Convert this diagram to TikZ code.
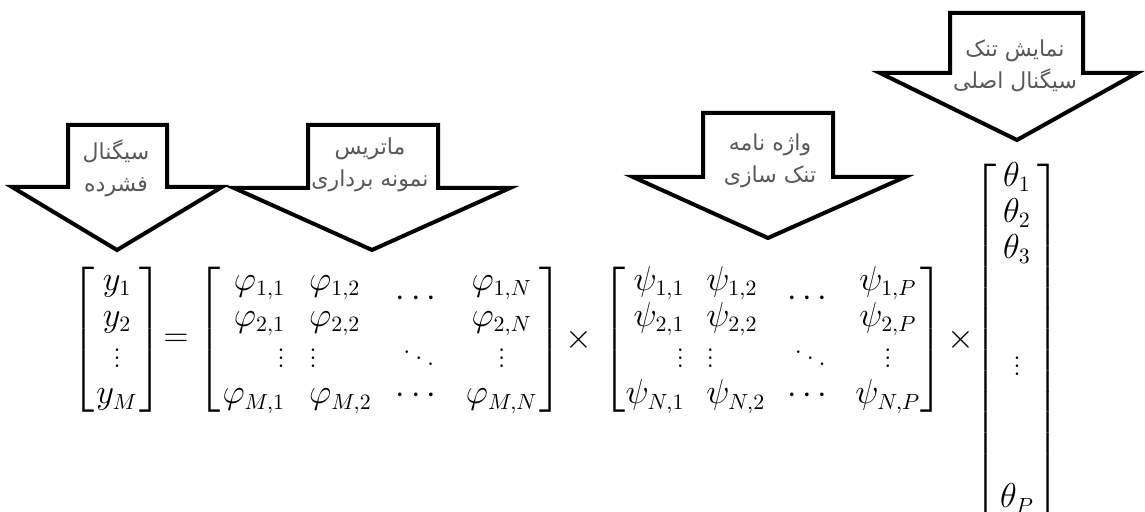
\documentclass[tikz,border=0pt]{standalone}
\usepackage{amsmath}
\usepackage{fontspec}
\newfontfamily\arabicfont[Script=Arabic]{DejaVu Sans}
\TeXXeTstate=1

\begin{document}
\begin{tikzpicture}[x=0.5pt,y=-0.5pt,font=\fontsize{16}{18}\selectfont]
  \tikzset{
    bigarrow/.style={draw,line width=2pt,fill=white,line join=miter},
    arrowtext/.style={font=\arabicfont\fontsize{11}{16}\selectfont,text=black!65,align=center,inner sep=0pt},
    mat/.style={inner sep=0pt,anchor=center}
  }
  \useasboundingbox (0,0) rectangle (1145,512);
  % block arrows over the factors
  \draw[bigarrow] (68,125) -- (167,125) -- (167,187) -- (222,187) -- (117,250) -- (12,187) -- (68,187) -- cycle;
  \draw[bigarrow] (308,125) -- (438,125) -- (438,188) -- (510,188) -- (372,250) -- (234,188) -- (308,188) -- cycle;
  \draw[bigarrow] (703,113) -- (833,113) -- (833,177) -- (905,177) -- (768,238) -- (633,177) -- (703,177) -- cycle;
  \draw[bigarrow] (950,13) -- (1083,13) -- (1083,73) -- (1137,73) -- (1017,140) -- (880,73) -- (950,73) -- cycle;
  \node[arrowtext] (lblcomp) at (116,168) {\beginR سیگنال\endR\\\beginR فشرده\endR};
  \node[arrowtext] (lblsamp) at (370,165) {\beginR ماتریس\endR\\\beginR نمونه برداری\endR};
  \node[arrowtext] (lbldict) at (770,161) {\beginR واژه نامه\endR\\\beginR تنک سازی\endR};
  \node[arrowtext] (lblsparse) at (1015,66) {\beginR نمایش تنک\endR\\\beginR سیگنال اصلی\endR};
  % the equation
  \node[mat] (yvec) at (117,340) {$\left[\begin{array}{@{\hspace{1pt}}c@{\hspace{1pt}}} y_1\\ y_2\\ \vdots\\ y_M \end{array}\right]$};
  \node[mat] (eq) at (176,340) {$=$};
  \node[mat] (phi) at (380,340) {\arraycolsep=6pt$\left[\begin{array}{@{\hspace{1pt}}rlcc@{\hspace{1pt}}}
    \varphi_{1,1} & \varphi_{1,2} & \smash{\raisebox{-8pt}{$\cdots$}} & \varphi_{1,N}\\
    \varphi_{2,1} & \varphi_{2,2} & & \varphi_{2,N}\\
    \vdots & \vdots & \ddots & \vdots\\
    \varphi_{M,1} & \varphi_{M,2} & \cdots & \varphi_{M,N}
  \end{array}\right]$};
  \node[mat] (times1) at (579,340) {$\times$};
  \node[mat] (psi) at (773,340) {\arraycolsep=5.5pt$\left[\begin{array}{@{\hspace{0pt}}rlcc@{\hspace{0pt}}}
    \psi_{1,1} & \psi_{1,2} & \smash{\raisebox{-8pt}{$\cdots$}} & \psi_{1,P}\\
    \psi_{2,1} & \psi_{2,2} & & \psi_{2,P}\\
    \vdots & \vdots & \ddots & \vdots\\
    \psi_{N,1} & \psi_{N,2} & \cdots & \psi_{N,P}
  \end{array}\right]$};
  \node[mat] (times2) at (961,340) {$\times$};
  \node[mat] (theta) at (1017,340) {$\left[\begin{array}{@{\hspace{2pt}}c@{\hspace{2pt}}} \theta_1\\ \theta_2\\ \theta_3\\[38pt] \vdots\\[48pt] \theta_P \end{array}\right]$};
\end{tikzpicture}
\end{document}
